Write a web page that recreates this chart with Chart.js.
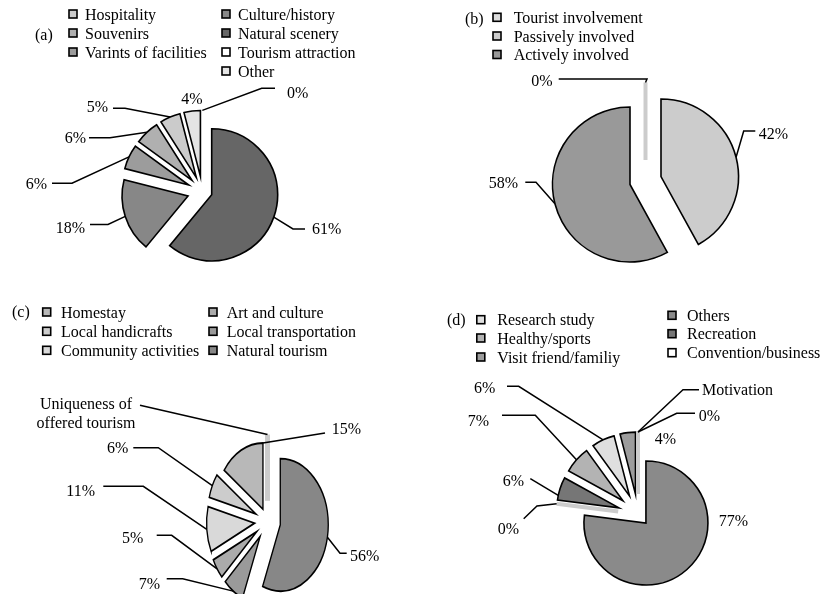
<!DOCTYPE html>
<html>
<head>
<meta charset="utf-8">
<script src="https://cdn.jsdelivr.net/npm/chart.js@4.4.1/dist/chart.umd.min.js"></script>
<style>
  html, body { margin: 0; padding: 0; background: #fff; }
  #wrap { position: relative; width: 824px; height: 594px; overflow: hidden; background: #fff; }
  #wrap canvas { position: absolute; left: 0; top: 0; }
</style>
</head>
<body>
<div id="wrap">
  <canvas id="pieA" width="824" height="594"></canvas>
  <canvas id="pieB" width="824" height="594"></canvas>
  <canvas id="pieC" width="824" height="594"></canvas>
  <canvas id="pieD" width="824" height="594"></canvas>
</div>
<script>
// ---- data (slices listed clockwise from 12 o'clock) ----
// (a) tourism attributes
const catA = ['Natural scenery', 'Culture/history', 'Varints of facilities', 'Souvenirs', 'Hospitality', 'Other', 'Tourism attraction'];
const valA = [61, 18, 6, 6, 5, 4, 0];
const legendA = [['Hospitality', 'Souvenirs', 'Varints of facilities'], ['Culture/history', 'Natural scenery', 'Tourism attraction', 'Other']];

// (b) tourist involvement
const catB = ['Tourist involvement', 'Passively involved', 'Actively involved'];
const valB = [0, 42, 58];
const legendB = [['Tourist involvement', 'Passively involved', 'Actively involved']];

// (c) uniqueness of offered tourism
const catC = ['Natural tourism', 'Local transportation', 'Art and culture', 'Community activities', 'Local handicrafts', 'Homestay', 'Uniqueness of offered tourism'];
const valC = [56, 7, 5, 11, 6, 15, 0];
const legendC = [['Homestay', 'Local handicrafts', 'Community activities'], ['Art and culture', 'Local transportation', 'Natural tourism']];

// (d) motivation
const catD = ['Others', 'Convention/business', 'Recreation', 'Healthy/sports', 'Research study', 'Visit friend/familiy', 'Motivation'];
const valD = [77, 0, 6, 7, 6, 4, 0];
const legendD = [['Research study', 'Healthy/sports', 'Visit friend/familiy'], ['Others', 'Recreation', 'Convention/business']];

// ---- styling ----
const W = 824, H = 594;
const FONT = '16px "Liberation Serif", "Times New Roman", serif';
const BASE = 5.5; // baseline below the visual middle of a text line

const shades = {
  'Natural scenery': '#666666', 'Culture/history': '#878787', 'Varints of facilities': '#9c9c9c',
  'Souvenirs': '#b0b0b0', 'Hospitality': '#cbcbcb', 'Other': '#e4e4e4', 'Tourism attraction': '#ffffff',
  'Tourist involvement': '#dcdcdc', 'Passively involved': '#cccccc', 'Actively involved': '#999999',
  'Natural tourism': '#878787', 'Local transportation': '#9a9a9a', 'Art and culture': '#ababab',
  'Community activities': '#d9d9d9', 'Local handicrafts': '#cccccc', 'Homestay': '#b8b8b8',
  'Uniqueness of offered tourism': '#cccccc',
  'Others': '#8a8a8a', 'Convention/business': '#ffffff', 'Recreation': '#767676',
  'Healthy/sports': '#b3b3b3', 'Research study': '#dfdfdf', 'Visit friend/familiy': '#9c9c9c',
  'Motivation': '#cccccc'
};

// Point on an arc that has been pushed out along its bisector (and optionally squashed vertically).
function slicePoint(arc, explode, k, frac) {
  const p = arc.getProps(['x', 'y', 'startAngle', 'endAngle', 'outerRadius'], true);
  const mid = (p.startAngle + p.endAngle) / 2;
  const a = p.startAngle + frac * (p.endAngle - p.startAngle);
  const dx = Math.cos(mid) * explode + Math.cos(a) * p.outerRadius;
  const dy = Math.sin(mid) * explode + Math.sin(a) * p.outerRadius;
  return [p.x + dx, p.y + dy * k];
}

const explodedPie = {
  id: 'explodedPie',
  beforeDatasetDraw(chart, args, opts) {
    const ctx = chart.ctx;
    const k = opts.yScale || 1;
    args.meta.data.forEach((arc, i) => {
      const p = arc.getProps(['x', 'y', 'startAngle', 'endAngle', 'outerRadius'], true);
      const mid = (p.startAngle + p.endAngle) / 2;
      const d = opts.explode[i] || 0;
      ctx.save();
      ctx.translate(p.x, p.y);
      ctx.scale(1, k);
      ctx.translate(-p.x, -p.y);
      ctx.translate(Math.cos(mid) * d, Math.sin(mid) * d);
      if (p.endAngle - p.startAngle > 1e-9) {
        arc.draw(ctx);
      } else if (opts.zeroLine) {
        // a zero share shows as a thin spoke of the slice
        ctx.beginPath();
        ctx.moveTo(p.x, p.y);
        ctx.lineTo(p.x + Math.cos(p.startAngle) * p.outerRadius, p.y + Math.sin(p.startAngle) * p.outerRadius);
        ctx.restore();
        ctx.save();
        ctx.lineWidth = opts.zeroLine.width;
        ctx.strokeStyle = opts.zeroLine.color;
        ctx.lineCap = 'butt';
        ctx.stroke();
      }
      ctx.restore();
    });
    return false;
  }
};

function wrapText(ctx, text, maxW) {
  if (!maxW) return [text];
  const words = text.split(' ');
  const lines = [];
  let cur = '';
  words.forEach(w => {
    const t = cur ? cur + ' ' + w : w;
    if (cur && ctx.measureText(t).width > maxW) { lines.push(cur); cur = w; } else { cur = t; }
  });
  if (cur) lines.push(cur);
  return lines;
}

const leaderLabels = {
  id: 'leaderLabels',
  afterDraw(chart, args, opts) {
    const ctx = chart.ctx;
    const meta = chart.getDatasetMeta(0);
    const ex = chart.options.plugins.explodedPie;
    const k = ex.yScale || 1;
    const values = chart.data.datasets[0].data;
    ctx.save();
    ctx.font = FONT;
    ctx.fillStyle = '#000';
    ctx.strokeStyle = '#000';
    ctx.lineWidth = 1.5;
    ctx.lineJoin = 'miter';
    opts.items.forEach(it => {
      const arc = meta.data[it.slice];
      if (it.path) {
        const anchor = slicePoint(arc, ex.explode[it.slice] || 0, k, it.frac == null ? 0.5 : it.frac);
        ctx.beginPath();
        ctx.moveTo(it.path[0][0], it.path[0][1]);
        it.path.slice(1).forEach(q => ctx.lineTo(q[0], q[1]));
        ctx.lineTo(anchor[0], anchor[1]);
        ctx.stroke();
      }
      const text = it.kind === 'name' ? chart.data.labels[it.slice] : values[it.slice] + '%';
      ctx.textAlign = it.align;
      ctx.textBaseline = 'alphabetic';
      wrapText(ctx, text, it.wrap).forEach((line, j) => ctx.fillText(line, it.x, it.y + BASE + j * 19));
    });
    ctx.restore();
  }
};

const boxLegend = {
  id: 'boxLegend',
  afterDraw(chart, args, opts) {
    const ctx = chart.ctx;
    const labels = chart.data.labels;
    const colors = chart.data.datasets[0].backgroundColor;
    ctx.save();
    ctx.font = FONT;
    ctx.fillStyle = '#000';
    ctx.textBaseline = 'alphabetic';
    ctx.textAlign = 'left';
    ctx.fillText(opts.tag[0], opts.tag[1], opts.tag[2]);
    opts.columns.forEach((col, c) => {
      col.forEach((name, r) => {
        const yc = opts.rows[c][r];
        const idx = labels.indexOf(name);
        const sx = opts.boxX[c];
        ctx.fillStyle = colors[idx];
        ctx.fillRect(sx - 4, yc - 4, 8, 8);
        ctx.lineWidth = 1.6;
        ctx.strokeStyle = '#000';
        ctx.strokeRect(sx - 4, yc - 4, 8, 8);
        ctx.fillStyle = '#000';
        ctx.fillText(name, opts.textX[c], yc + BASE);
      });
    });
    ctx.restore();
  }
};

function makePie(id, cats, vals, geo, explodeOpts, labelItems, legendOpts) {
  const pad = { left: geo.cx - geo.r, right: W - geo.cx - geo.r, top: geo.cy - geo.r, bottom: H - geo.cy - geo.r };
  return new Chart(document.getElementById(id), {
    type: 'pie',
    data: {
      labels: cats,
      datasets: [{
        data: vals,
        backgroundColor: cats.map(c => shades[c]),
        borderColor: '#000',
        borderWidth: geo.bw || 1.6,
        borderJoinStyle: 'miter',
        clip: false
      }]
    },
    options: {
      responsive: false,
      maintainAspectRatio: false,
      animation: false,
      events: [],
      radius: geo.r,
      layout: { padding: pad },
      plugins: {
        legend: { display: false },
        tooltip: { enabled: false },
        explodedPie: explodeOpts,
        leaderLabels: { items: labelItems },
        boxLegend: legendOpts
      }
    },
    plugins: [explodedPie, leaderLabels, boxLegend]
  });
}

// (a)
makePie('pieA', catA, valA, { cx: 202.3, cy: 191.4, r: 66 },
  { explode: [10, 15, 15, 15, 15, 15, 15], zeroLine: null },
  [
    { slice: 0, x: 312, y: 228, align: 'left', path: [[305, 229], [293, 229]] },
    { slice: 1, x: 85, y: 227, align: 'right', path: [[90, 224.5], [108, 224.5]] },
    { slice: 2, x: 47, y: 183, align: 'right', path: [[52, 183.3], [72, 183.3]] },
    { slice: 3, x: 86, y: 137, align: 'right', path: [[89, 137.7], [110, 137.7]] },
    { slice: 4, x: 108, y: 106, align: 'right', path: [[113, 108.3], [125, 108.3]] },
    { slice: 5, x: 192, y: 98, align: 'center' },
    { slice: 6, x: 287, y: 92, align: 'left', path: [[275, 88.3], [261.7, 88.3]] }
  ],
  { tag: ['(a)', 35, 39.5], columns: legendA, boxX: [73, 226], textX: [85, 238],
    rows: [[14, 33, 52], [14, 33, 52, 71]] });

// (b)
makePie('pieB', catB, valB, { cx: 645.5, cy: 180.5, r: 77.5 },
  { explode: [20.5, 16, 16], zeroLine: { width: 4, color: '#cccccc' } },
  [
    { slice: 0, x: 552.7, y: 80, align: 'right', path: [[558.7, 79], [647, 79]] },
    { slice: 1, x: 758.7, y: 133, align: 'left', path: [[755.3, 131], [743.7, 131]] },
    { slice: 2, x: 518, y: 182.7, align: 'right', path: [[525.3, 182.3], [536, 182.3]] }
  ],
  { tag: ['(b)', 465, 23.8], columns: legendB, boxX: [497], textX: [513.7],
    rows: [[17.3, 36, 54.5]] });

// (c)
makePie('pieC', catC, valC, { cx: 267.5, cy: 521.5, r: 48, bw: 1.35 },
  { explode: [13, 13, 13, 13, 13, 10, 15], yScale: 1.38, zeroLine: { width: 5, color: '#cccccc' } },
  [
    { slice: 0, x: 350, y: 555.3, align: 'left', path: [[346.7, 553.3], [340, 553.3]] },
    { slice: 1, x: 160, y: 583.7, align: 'right', path: [[166.7, 578.7], [182.7, 578.7]] },
    { slice: 2, x: 143.3, y: 537, align: 'right', path: [[156.7, 535.3], [171.7, 535.3]] },
    { slice: 3, x: 95, y: 490.3, align: 'right', path: [[103.3, 486.3], [143.3, 486.3]] },
    { slice: 4, x: 128.3, y: 447, align: 'right', path: [[133.3, 447.7], [158.3, 447.7]] },
    { slice: 5, x: 331.7, y: 428.7, align: 'left', path: [[325, 433]], frac: 1 },
    { slice: 6, kind: 'name', x: 86, y: 403, align: 'center', wrap: 110, path: [[140, 405.3]] }
  ],
  { tag: ['(c)', 12, 316.8], columns: legendC, boxX: [46.7, 213], textX: [61, 226.7],
    rows: [[312, 331.3, 350.3], [312, 331.3, 350.3]] });

// (d)
makePie('pieD', catD, valD, { cx: 638, cy: 514, r: 62 },
  { explode: [12, 20, 20, 20, 20, 20, 20], zeroLine: { width: 4, color: '#cccccc' } },
  [
    { slice: 0, x: 718.7, y: 520.3, align: 'left' },
    { slice: 1, x: 519, y: 528.7, align: 'right', path: [[523.7, 518.7], [537, 506]] },
    { slice: 2, x: 524, y: 480.3, align: 'right', path: [[530.3, 478.7]], frac: 0.2 },
    { slice: 3, x: 489, y: 420.3, align: 'right', path: [[502, 415.3], [535.3, 415.3]] },
    { slice: 4, x: 495.3, y: 387.7, align: 'right', path: [[507, 386.3], [518.7, 386.3]] },
    { slice: 5, x: 665.3, y: 438.7, align: 'center' },
    { slice: 6, kind: 'name', x: 702, y: 389.7, align: 'left', path: [[699, 389.7], [683, 389.7]] },
    { slice: 6, x: 698.7, y: 415.3, align: 'left', path: [[695, 413.3], [676.7, 413.3]] }
  ],
  { tag: ['(d)', 447, 324.8], columns: legendD, boxX: [480.8, 672], textX: [497.3, 687],
    rows: [[319.7, 338, 357], [315.3, 333.7, 352.7]] });
</script>
</body>
</html>
